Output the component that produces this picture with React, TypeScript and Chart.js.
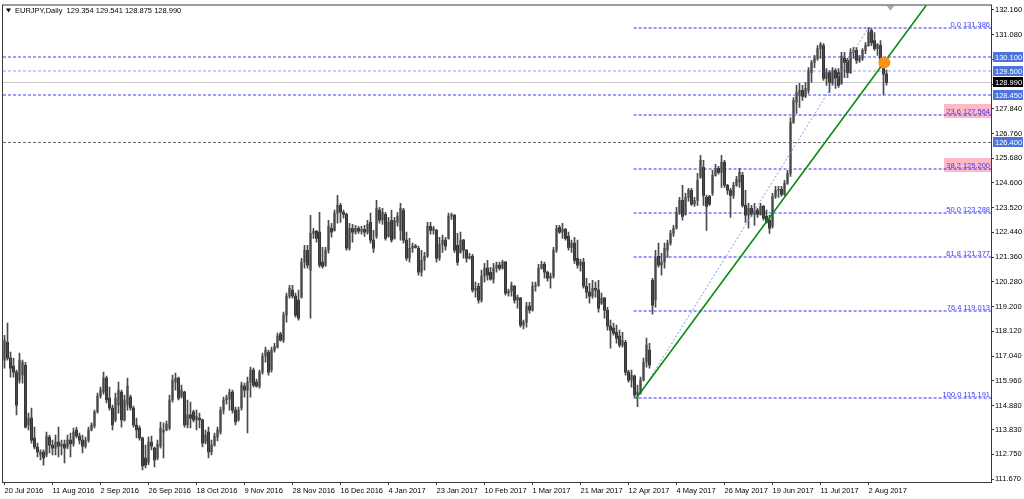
import React, { useEffect, useRef } from "react";
import { Chart, registerables } from "chart.js";

Chart.register(...registerables);

const symbolTitle = "EURJPY,Daily";
const headerOHLC = ["129.354", "129.541", "128.875", "128.990"];

const opens = [
  116.86, 117.64, 116.95, 116.6, 116.34, 115.99, 116.21, 116.64, 114.03, 114.33,
  113.46, 113.07, 112.72, 112.85, 112.72, 113.5, 113.15, 113.02, 113.28, 113.11,
  113.2, 113.07, 113.37, 113.2, 113.81, 113.55, 113.37, 113.11, 113.37, 113.81,
  113.99, 114.6, 115.29, 115.47, 116.08, 115.2, 114.77, 114.25, 114.9, 115.47,
  114.25, 114.9, 115.25, 114.77, 114.03, 113.9, 113.46, 112.59, 112.41, 113.28,
  113.02, 112.59, 113.11, 113.72, 113.81, 113.9, 115.12, 115.9, 116.08, 115.29,
  115.47, 114.03, 114.47, 114.6, 114.25, 114.33, 114.25, 113.28, 113.72, 112.85,
  113.15, 113.5, 113.72, 114.68, 115.12, 115.16, 115.47, 114.68, 114.25, 114.77,
  115.73, 115.55, 115.9, 116.43, 115.9, 115.73, 116.34, 117.04, 117.21, 116.43,
  117.3, 117.43, 118.0, 117.73, 118.83, 119.66, 119.92, 119.66, 119.48, 119.61,
  121.14, 121.66, 120.79, 122.4, 122.49, 122.45, 121.14, 121.01, 121.66, 122.62,
  122.53, 123.28, 123.62, 123.32, 123.23, 121.75, 122.62, 122.45, 122.62, 122.49,
  122.58, 122.45, 122.88, 122.1, 122.27, 123.41, 122.97, 123.23, 122.27, 122.97,
  122.18, 122.88, 122.53, 123.41, 122.1, 121.31, 121.75, 121.84, 121.75, 120.7,
  121.22, 121.4, 122.71, 122.53, 122.53, 121.31, 121.92, 122.1, 122.18, 123.15,
  123.19, 121.88, 121.57, 122.1, 121.66, 121.31, 121.4, 119.92, 120.09, 119.48,
  120.53, 120.88, 120.7, 120.4, 120.88, 121.01, 120.88, 121.14, 119.79, 119.87,
  120.09, 119.48, 119.57, 118.39, 118.52, 119.22, 119.04, 120.09, 120.13, 120.88,
  121.05, 120.7, 120.44, 120.53, 121.66, 122.66, 122.45, 122.58, 122.27, 121.79,
  121.97, 121.31, 121.01, 121.14, 120.09, 119.83, 119.66, 120.0, 119.92, 119.35,
  119.57, 119.04, 118.35, 118.26, 118.08, 117.91, 117.52, 117.64, 116.34, 115.99,
  116.17, 115.34, 115.42, 115.99, 116.77, 117.3, 120.35, 119.48, 121.4, 121.01,
  121.14, 121.66, 121.97, 122.4, 122.62, 123.32, 123.84, 123.23, 123.97, 124.28,
  123.67, 123.84, 124.85, 125.28, 123.97, 124.02, 124.15, 124.93, 125.24, 125.06,
  125.5, 124.5, 124.28, 124.06, 124.5, 124.63, 124.93, 123.62, 123.19, 123.49,
  123.23, 123.41, 123.23, 123.58, 123.14, 122.97, 122.71, 124.02, 124.28, 124.32,
  124.1, 124.58, 125.02, 127.24, 128.12, 128.42, 128.64, 128.38, 128.64, 129.42,
  129.86, 130.04, 130.47, 130.6, 129.16, 129.42, 128.95, 129.51, 129.42, 128.95,
  130.04, 129.95, 129.42, 130.3, 130.39, 129.95, 130.04, 130.39, 130.6, 131.26,
  130.82, 130.47, 130.6, 129.73, 129.354,
];

const highs = [
  117.95, 118.48, 117.21, 116.95, 116.43, 117.17, 116.86, 116.77, 114.55, 114.77,
  113.94, 113.24, 112.94, 112.94, 113.72, 113.59, 113.37, 113.59, 113.94, 113.37,
  113.37, 113.59, 113.68, 113.9, 113.94, 113.68, 113.59, 113.5, 113.94, 114.12,
  114.68, 115.42, 115.68, 116.34, 116.17, 115.68, 114.9, 115.42, 115.9, 115.55,
  115.34, 116.08, 115.34, 114.86, 114.33, 113.99, 113.5, 113.15, 113.5, 113.55,
  113.07, 113.37, 114.16, 114.12, 114.2, 115.34, 116.21, 116.3, 116.12, 115.77,
  115.51, 115.12, 115.03, 114.68, 114.68, 114.55, 114.29, 113.81, 113.94, 113.37,
  113.68, 113.94, 114.81, 115.25, 115.34, 115.6, 115.55, 114.81, 114.81, 115.9,
  115.86, 116.12, 116.56, 116.51, 116.04, 116.43, 117.17, 117.43, 117.3, 117.43,
  117.6, 118.04, 118.08, 118.96, 119.79, 120.13, 120.13, 119.79, 119.92, 121.31,
  121.88, 121.88, 123.19, 122.62, 122.53, 123.32, 121.79, 121.79, 122.97, 122.84,
  123.41, 124.06, 123.71, 123.41, 123.28, 122.84, 122.79, 122.75, 122.71, 122.71,
  122.75, 122.97, 123.28, 122.53, 123.84, 123.54, 123.49, 123.32, 123.1, 123.41,
  123.1, 123.32, 123.71, 123.49, 122.45, 122.18, 121.97, 121.92, 121.84, 121.66,
  121.57, 122.88, 122.88, 122.71, 122.58, 122.23, 122.32, 122.23, 123.28, 123.28,
  123.23, 122.4, 122.45, 122.14, 121.7, 121.53, 121.48, 120.27, 120.22, 120.79,
  121.09, 121.22, 120.92, 121.09, 121.14, 121.14, 121.22, 121.18, 119.96, 120.27,
  120.13, 119.7, 119.61, 118.61, 119.39, 119.39, 120.27, 120.27, 121.05, 121.18,
  121.14, 120.75, 120.66, 121.79, 122.75, 122.75, 122.84, 122.62, 122.45, 122.1,
  122.23, 122.1, 121.27, 121.31, 120.44, 120.22, 120.35, 120.27, 120.35, 119.79,
  119.61, 119.17, 118.61, 118.48, 118.39, 118.17, 118.08, 117.73, 116.43, 116.43,
  116.21, 115.77, 116.12, 116.95, 117.82, 117.6, 120.44, 121.66, 121.97, 121.53,
  121.97, 122.1, 122.53, 122.75, 123.54, 123.97, 124.5, 124.15, 124.37, 124.37,
  123.97, 125.02, 125.81, 125.59, 124.06, 124.06, 125.15, 125.41, 125.33, 125.81,
  125.59, 124.54, 124.37, 124.63, 124.89, 125.24, 125.06, 124.28, 123.71, 123.62,
  123.71, 123.49, 123.71, 123.62, 123.41, 123.19, 124.15, 124.45, 124.45, 124.45,
  124.71, 125.15, 127.46, 128.33, 128.86, 128.95, 128.86, 128.99, 129.64, 129.95,
  130.17, 130.6, 130.73, 130.69, 129.6, 129.51, 129.64, 129.6, 129.6, 130.3,
  130.3, 130.04, 130.47, 130.52, 130.52, 130.17, 130.47, 130.73, 131.386, 131.34,
  131.17, 130.69, 130.82, 129.95, 129.541,
];

const lows = [
  116.51, 116.86, 116.12, 116.12, 114.47, 115.86, 115.86, 113.9, 113.81, 113.24,
  112.98, 112.63, 112.5, 112.28, 112.63, 112.81, 112.72, 112.72, 112.63, 112.72,
  112.37, 112.98, 112.63, 113.11, 113.46, 113.2, 112.81, 113.02, 113.28, 113.77,
  113.9, 114.55, 115.2, 115.38, 114.99, 114.68, 113.81, 114.16, 114.55, 113.94,
  114.2, 114.68, 114.68, 113.94, 113.46, 113.37, 112.07, 112.15, 112.3, 112.94,
  112.2, 112.5, 113.02, 112.59, 113.77, 113.81, 115.03, 115.55, 115.12, 115.2,
  113.94, 113.9, 113.9, 114.16, 113.81, 113.9, 113.07, 113.2, 112.59, 112.72,
  113.11, 113.33, 113.63, 114.51, 114.94, 114.68, 114.55, 114.03, 114.2, 114.68,
  115.25, 113.68, 115.25, 115.68, 115.68, 115.64, 116.25, 116.77, 116.21, 116.34,
  117.21, 117.39, 117.69, 117.64, 118.52, 119.57, 119.57, 118.74, 118.61, 119.57,
  120.88, 120.88, 118.7, 122.18, 122.01, 120.92, 120.88, 120.96, 121.53, 122.23,
  122.49, 122.84, 122.88, 123.06, 121.66, 121.66, 122.01, 122.36, 122.4, 122.36,
  122.27, 122.36, 121.97, 121.57, 122.18, 122.84, 122.79, 122.1, 122.23, 122.01,
  122.14, 122.71, 122.1, 121.97, 121.22, 121.14, 121.57, 121.75, 120.57, 120.53,
  120.79, 121.35, 122.36, 122.36, 121.14, 121.22, 121.57, 121.66, 122.14, 123.01,
  121.57, 121.01, 121.53, 121.31, 121.14, 121.27, 119.83, 119.61, 119.35, 119.39,
  120.27, 120.35, 120.35, 120.22, 120.7, 120.79, 120.83, 119.7, 119.66, 119.66,
  119.35, 119.13, 118.3, 118.22, 118.3, 118.91, 119.0, 119.87, 120.09, 120.83,
  120.44, 120.31, 120.0, 120.44, 121.57, 122.4, 122.18, 122.1, 121.66, 121.57,
  121.09, 120.88, 120.75, 120.0, 119.57, 119.35, 119.57, 119.61, 118.96, 119.3,
  118.7, 118.17, 117.39, 117.95, 117.6, 117.43, 117.43, 116.21, 115.9, 115.68,
  115.25, 114.83, 115.38, 115.95, 116.56, 116.51, 118.87, 119.17, 120.92, 120.57,
  120.88, 121.35, 121.88, 122.27, 122.58, 123.23, 122.97, 123.19, 123.8, 123.62,
  123.58, 123.62, 124.8, 123.62, 122.53, 123.62, 124.06, 124.9, 124.98, 124.41,
  124.41, 124.1, 123.1, 123.93, 124.45, 124.41, 123.54, 122.88, 122.62, 123.14,
  122.75, 123.1, 123.19, 122.97, 122.84, 122.4, 122.62, 123.93, 123.97, 124.02,
  124.06, 124.54, 124.89, 127.2, 127.64, 127.9, 128.2, 128.33, 128.51, 128.99,
  129.64, 129.95, 130.04, 129.08, 128.86, 128.55, 128.86, 128.73, 128.77, 128.9,
  129.2, 129.2, 129.38, 130.04, 129.82, 129.86, 129.95, 130.25, 130.56, 130.6,
  130.39, 130.17, 129.64, 128.45, 128.875,
];

const closes = [
  117.73, 116.95, 116.51, 116.34, 114.9, 116.86, 116.77, 113.94, 114.33, 113.37,
  113.07, 112.85, 112.85, 112.59, 113.55, 113.15, 113.02, 113.28, 113.11, 113.2,
  113.02, 113.37, 113.2, 113.72, 113.55, 113.37, 113.11, 113.37, 113.81, 114.03,
  114.6, 115.29, 115.55, 116.08, 115.12, 114.77, 114.03, 115.2, 115.55, 114.25,
  115.12, 115.73, 114.77, 114.03, 113.81, 113.46, 112.24, 112.28, 113.28, 113.11,
  112.5, 113.2, 113.9, 113.81, 114.07, 115.12, 115.99, 116.08, 115.2, 115.55,
  114.03, 114.47, 114.33, 114.25, 114.42, 114.25, 113.24, 113.59, 112.85, 113.15,
  113.55, 113.81, 114.68, 115.12, 115.2, 115.47, 114.68, 114.16, 114.68, 115.77,
  115.55, 115.9, 116.43, 115.77, 115.73, 116.34, 117.04, 117.3, 116.34, 117.3,
  117.47, 117.91, 117.73, 118.83, 119.66, 120.0, 119.66, 118.83, 118.7, 121.14,
  121.66, 121.01, 122.4, 122.49, 122.18, 121.01, 120.96, 121.66, 122.71, 122.45,
  123.28, 123.62, 123.32, 123.23, 121.75, 122.62, 122.45, 122.62, 122.49, 122.58,
  122.45, 122.79, 122.1, 121.75, 123.49, 122.97, 123.32, 122.18, 122.88, 122.1,
  122.97, 123.15, 123.49, 122.1, 121.31, 121.75, 121.84, 121.79, 120.7, 121.22,
  121.4, 122.71, 122.53, 122.62, 121.31, 121.92, 122.1, 121.84, 123.15, 123.21,
  121.66, 121.14, 122.1, 121.66, 121.31, 121.4, 119.92, 120.0, 119.48, 120.53,
  120.88, 120.57, 120.4, 120.88, 121.01, 120.88, 121.14, 119.79, 119.87, 120.13,
  119.48, 119.61, 118.39, 118.52, 119.22, 119.04, 120.09, 120.13, 120.88, 121.05,
  120.7, 120.44, 120.53, 121.66, 122.62, 122.45, 122.58, 122.18, 121.79, 121.97,
  121.22, 121.01, 121.14, 120.09, 119.83, 119.66, 120.0, 119.92, 119.13, 119.57,
  119.04, 118.35, 118.17, 118.04, 117.82, 117.52, 117.73, 116.34, 115.99, 116.21,
  115.34, 115.47, 115.99, 116.77, 117.52, 116.64, 119.26, 121.31, 121.01, 121.14,
  121.75, 121.97, 122.4, 122.62, 123.32, 123.84, 123.14, 123.97, 124.28, 123.67,
  123.84, 124.71, 125.59, 124.06, 123.58, 123.67, 124.93, 125.24, 125.06, 125.5,
  124.5, 124.28, 124.06, 124.5, 124.76, 125.06, 123.62, 123.19, 123.49, 123.23,
  123.41, 123.23, 123.58, 123.06, 122.88, 122.62, 124.02, 124.28, 124.32, 124.1,
  124.58, 125.02, 127.24, 128.2, 128.55, 128.64, 128.38, 128.73, 129.51, 129.86,
  130.04, 130.47, 130.65, 129.16, 129.42, 128.99, 129.51, 129.16, 128.86, 130.13,
  129.86, 129.42, 130.3, 130.39, 129.95, 130.04, 130.39, 130.6, 131.17, 130.73,
  130.47, 130.65, 129.73, 129.354, 128.99,
];

const dateLabels = [
  "20 Jul 2016", "11 Aug 2016", "2 Sep 2016", "26 Sep 2016", "18 Oct 2016",
  "9 Nov 2016", "28 Nov 2016", "16 Dec 2016", "4 Jan 2017", "23 Jan 2017",
  "10 Feb 2017", "1 Mar 2017", "21 Mar 2017", "12 Apr 2017", "4 May 2017",
  "26 May 2017", "19 Jun 2017", "11 Jul 2017", "2 Aug 2017",
];
const dateLabelStep = 16;

const priceTicks = [
  132.16, 131.08, 130.0, 128.92, 127.84, 126.76, 125.68, 124.6, 123.52, 122.44,
  121.36, 120.28, 119.2, 118.12, 117.04, 115.96, 114.88, 113.83, 112.75, 111.67,
];
const priceMin = 111.54;
const priceMax = 132.35;
const barMin = -0.5;
const barMax = 328.83;

const levelPrices = [130.1, 129.5, 128.45, 126.4];
const bidPrice = 128.99;

const fibRatios = ["0.0", "23.6", "38.2", "50.0", "61.8", "76.4", "100.0"];
const fibPrices = [131.386, 127.564, 125.2, 123.288, 121.377, 119.013, 115.191];
const fibHighlighted = [false, true, true, false, false, false, false];
const fibAnchorBars = [211, 288];
const fibStartBar = 209.7;

const trendBars = [210.5, 307.6];
const trendPrices = [115.19, 132.42];

const markerBar = 293.3;
const markerPrice = 129.86;
const shiftMarkerBar = 295.3;

const FONT = '"Liberation Sans", Arial, sans-serif';

function hline(ctx: CanvasRenderingContext2D, x1: number, x2: number, y: number) {
  ctx.beginPath();
  ctx.moveTo(x1, y);
  ctx.lineTo(x2, y);
  ctx.stroke();
}

const overlayPlugin = {
  id: "mt4overlay",
  beforeDatasetsDraw(chart: any) {
    const { ctx, chartArea: ca, scales } = chart;
    const x = scales.x;
    const y = scales.y;
    ctx.save();
    ctx.beginPath();
    ctx.rect(ca.left, ca.top, ca.right - ca.left, ca.bottom - ca.top);
    ctx.clip();

    // bid line
    ctx.lineWidth = 1;
    ctx.setLineDash([]);
    ctx.strokeStyle = "#c8c8c8";
    hline(ctx, ca.left, ca.right, Math.round(y.getPixelForValue(bidPrice)) + 0.5);

    // horizontal levels (soft blue dashed lines)
    const levelColors = ["#3346ff", "#8fa0f7", "#3346ff", "#6a6a6a"];
    levelPrices.forEach((p, k) => {
      ctx.strokeStyle = levelColors[k];
      ctx.lineWidth = 1;
      ctx.setLineDash([3, 2]);
      const py = Math.round(y.getPixelForValue(p)) + (k === 3 ? 0.5 : 0);
      hline(ctx, ca.left, ca.right, py);
    });

    // fib horizontal lines
    const fx = x.getPixelForValue(fibStartBar);
    fibPrices.forEach((p, k) => {
      const py = Math.round(y.getPixelForValue(p));
      if (fibHighlighted[k]) {
        ctx.fillStyle = "#ffb9c6";
        ctx.fillRect(ca.right - 47, py - 11, 47, 14);
      }
      ctx.strokeStyle = "#2d2dff";
      ctx.lineWidth = 1;
      ctx.setLineDash([3, 2]);
      hline(ctx, fx, ca.right, py);
    });
    ctx.restore();
  },
  afterDatasetsDraw(chart: any) {
    const { ctx, chartArea: ca, scales } = chart;
    const x = scales.x;
    const y = scales.y;
    ctx.save();
    ctx.beginPath();
    ctx.rect(ca.left, ca.top, ca.right - ca.left, ca.bottom - ca.top);
    ctx.clip();

    // fib diagonal (dotted)
    ctx.strokeStyle = "#7f98f0";
    ctx.lineWidth = 1;
    ctx.setLineDash([2, 2]);
    ctx.beginPath();
    ctx.moveTo(x.getPixelForValue(fibAnchorBars[0]), y.getPixelForValue(fibPrices[6]));
    ctx.lineTo(x.getPixelForValue(fibAnchorBars[1]), y.getPixelForValue(fibPrices[0]));
    ctx.stroke();

    // green trend line
    ctx.setLineDash([]);
    ctx.strokeStyle = "#0b8a0b";
    ctx.lineWidth = 1.6;
    ctx.beginPath();
    ctx.moveTo(x.getPixelForValue(trendBars[0]), y.getPixelForValue(trendPrices[0]));
    ctx.lineTo(x.getPixelForValue(trendBars[1]), y.getPixelForValue(trendPrices[1]));
    ctx.stroke();

    // orange marker
    ctx.fillStyle = "#f7921c";
    ctx.beginPath();
    ctx.arc(x.getPixelForValue(markerBar), y.getPixelForValue(markerPrice), 6, 0, Math.PI * 2);
    ctx.fill();

    // fib labels
    ctx.font = `7.5px ${FONT}`;
    ctx.textAlign = "right";
    ctx.textBaseline = "alphabetic";
    ctx.fillStyle = "#3a3af5";
    fibPrices.forEach((p, k) => {
      const py = Math.round(y.getPixelForValue(p));
      ctx.fillText(`${fibRatios[k]} ${p.toFixed(3)}`, ca.right - 1, py - 1.5);
    });

    // chart shift marker
    const sx = x.getPixelForValue(shiftMarkerBar);
    ctx.fillStyle = "#a8a8a8";
    ctx.beginPath();
    ctx.moveTo(sx - 4, ca.top);
    ctx.lineTo(sx + 4, ca.top);
    ctx.lineTo(sx, ca.top + 5);
    ctx.closePath();
    ctx.fill();
    ctx.restore();

    // header
    ctx.save();
    ctx.fillStyle = "#000";
    ctx.beginPath();
    ctx.moveTo(ca.left + 3, ca.top + 3);
    ctx.lineTo(ca.left + 8, ca.top + 3);
    ctx.lineTo(ca.left + 5.5, ca.top + 7);
    ctx.closePath();
    ctx.fill();
    ctx.font = `7.5px ${FONT}`;
    ctx.textAlign = "left";
    ctx.textBaseline = "middle";
    ctx.fillText(`${symbolTitle}  ${headerOHLC.join(" ")}`, ca.left + 12, ca.top + 5);
    ctx.restore();
  },
  afterDraw(chart: any) {
    const { ctx, chartArea: ca, scales } = chart;
    const y = scales.y;
    ctx.save();
    // frame
    ctx.strokeStyle = "#3a3a3a";
    ctx.lineWidth = 1;
    ctx.setLineDash([]);
    ctx.strokeRect(ca.left - 0.5, ca.top - 0.5, ca.right - ca.left + 1, ca.bottom - ca.top + 1);

    // axis price boxes
    ctx.font = `7.5px ${FONT}`;
    ctx.textAlign = "left";
    ctx.textBaseline = "middle";
    const boxes = levelPrices.map((p) => ({ p, bg: "#4c74dd" }));
    boxes.push({ p: bidPrice, bg: "#000000" });
    boxes.forEach(({ p, bg }) => {
      const py = Math.round(y.getPixelForValue(p));
      ctx.fillStyle = bg;
      ctx.fillRect(ca.right + 2, py - 5, 30, 10);
      ctx.fillStyle = "#ffffff";
      ctx.fillText(p.toFixed(3), ca.right + 4, py + 0.5);
    });
    ctx.restore();
  },
};

export default function App() {
  const canvasRef = useRef<HTMLCanvasElement | null>(null);

  useEffect(() => {
    document.body.style.margin = "0";
    const canvas = canvasRef.current;
    if (!canvas) return;

    const wickData = highs.map((h, i) => ({ x: i, y: [lows[i], h] }));
    const bodyData = opens.map((o, i) => ({ x: i, y: [o, closes[i]] }));
    const bodyColors = opens.map((o, i) => (closes[i] >= o ? "#7c7c7c" : "#000000"));

    const chart = new Chart(canvas, {
      type: "bar",
      data: {
        datasets: [
          {
            data: wickData as any,
            backgroundColor: "#4a4a4a",
            barThickness: 1,
            grouped: false,
            borderWidth: 0,
            minBarLength: 1,
          } as any,
          {
            data: bodyData as any,
            backgroundColor: bodyColors,
            barThickness: 2,
            grouped: false,
            borderWidth: 0,
            minBarLength: 1,
          } as any,
        ],
      },
      options: {
        animation: false,
        responsive: false,
        maintainAspectRatio: false,
        events: [],
        layout: { padding: { left: 3, top: 5, right: 0, bottom: 0 } },
        plugins: {
          legend: { display: false },
          tooltip: { enabled: false },
          title: { display: false },
        },
        scales: {
          x: {
            type: "linear",
            min: barMin,
            max: barMax,
            offset: false,
            position: "bottom",
            grid: {
              display: true,
              drawOnChartArea: false,
              drawTicks: true,
              tickLength: 3,
              color: "#3a3a3a",
              offset: false,
            },
            border: { display: true, color: "#3a3a3a" },
            ticks: {
              autoSkip: false,
              maxRotation: 0,
              minRotation: 0,
              align: "start",
              padding: 1,
              color: "#000",
              font: { family: FONT, size: 7.5 },
              callback: (_v: any, idx: number) => dateLabels[idx] ?? "",
            },
            afterBuildTicks: (scale: any) => {
              scale.ticks = dateLabels.map((_, k) => ({ value: k * dateLabelStep }));
            },
            afterFit: (scale: any) => {
              scale.height = 17;
            },
          } as any,
          y: {
            type: "linear",
            position: "right",
            min: priceMin,
            max: priceMax,
            grid: {
              display: true,
              drawOnChartArea: false,
              drawTicks: true,
              tickLength: 3,
              color: "#3a3a3a",
            },
            border: { display: true, color: "#3a3a3a" },
            ticks: {
              autoSkip: false,
              padding: 1,
              color: "#000",
              font: { family: FONT, size: 7.5 },
              callback: (v: any) => Number(v).toFixed(3),
            },
            afterBuildTicks: (scale: any) => {
              scale.ticks = priceTicks.map((v) => ({ value: v }));
            },
            afterFit: (scale: any) => {
              scale.width = 33;
            },
          } as any,
        },
      },
      plugins: [overlayPlugin as any],
    });

    return () => chart.destroy();
  }, []);

  return (
    <div style={{ position: "fixed", left: 0, top: 0, width: 1024, height: 499, background: "#ffffff" }}>
      <canvas ref={canvasRef} width={1024} height={499} style={{ display: "block" }} />
    </div>
  );
}
